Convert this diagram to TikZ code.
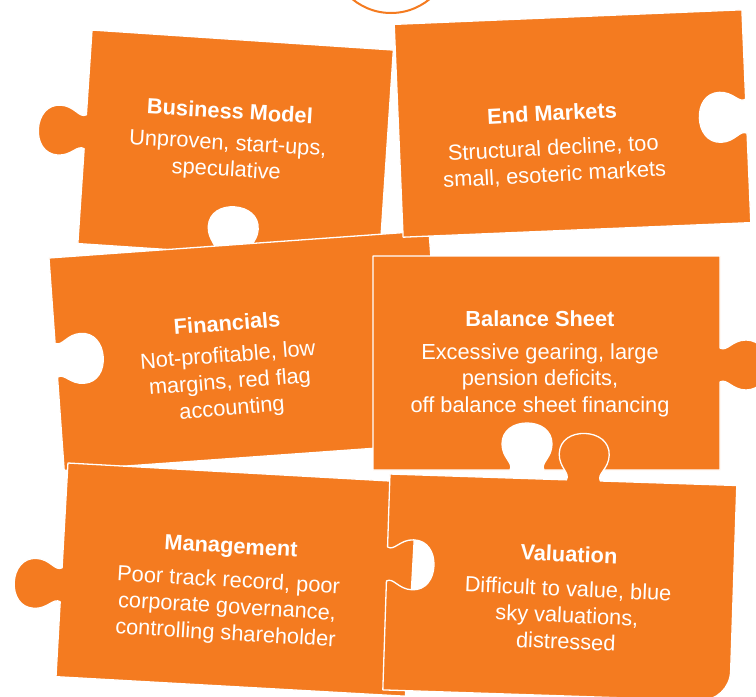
\documentclass[tikz,border=0pt]{standalone}
\usepackage{fontspec}
\setmainfont{Liberation Sans}
\definecolor{puzzle}{RGB}{244,123,32}

% Knob on a horizontal edge: #1 centre x, #2 edge y, #3 side (+1 / -1), #4 direction of travel
\newcommand\hknob[4]{%
 -- ({#1-(#4)*17},{#2})
 .. controls ({#1-(#4)*13},{#2+(#3)*7}) and ({#1-(#4)*25},{#2+(#3)*12}) .. ({#1-(#4)*25},{#2+(#3)*26})
 .. controls ({#1-(#4)*25},{#2+(#3)*40}) and ({#1-(#4)*13},{#2+(#3)*47}) .. ({#1},{#2+(#3)*47})
 .. controls ({#1+(#4)*13},{#2+(#3)*47}) and ({#1+(#4)*25},{#2+(#3)*40}) .. ({#1+(#4)*25},{#2+(#3)*26})
 .. controls ({#1+(#4)*25},{#2+(#3)*12}) and ({#1+(#4)*13},{#2+(#3)*7}) .. ({#1+(#4)*17},{#2})}
% Knob on a vertical edge: #1 centre y, #2 edge x, #3 side, #4 direction of travel
\newcommand\vknob[4]{%
 -- ({#2},{#1-(#4)*17})
 .. controls ({#2+(#3)*7},{#1-(#4)*13}) and ({#2+(#3)*12},{#1-(#4)*25}) .. ({#2+(#3)*26},{#1-(#4)*25})
 .. controls ({#2+(#3)*40},{#1-(#4)*25}) and ({#2+(#3)*47},{#1-(#4)*13}) .. ({#2+(#3)*47},{#1})
 .. controls ({#2+(#3)*47},{#1+(#4)*13}) and ({#2+(#3)*40},{#1+(#4)*25}) .. ({#2+(#3)*26},{#1+(#4)*25})
 .. controls ({#2+(#3)*12},{#1+(#4)*25}) and ({#2+(#3)*7},{#1+(#4)*13}) .. ({#2},{#1+(#4)*17})}

\tikzset{
  piece/.style={fill=puzzle, draw=white, line width=1.3pt, line join=round},
  ptitle/.style={text=white, font=\fontsize{21.8}{26.5}\selectfont\bfseries, inner sep=0pt},
  pbody/.style={text=white, font=\fontsize{21.8}{26.5}\selectfont, align=center, inner sep=0pt},
  ring/.style={draw=puzzle, line width=2pt},
}

\begin{document}
\begin{tikzpicture}[x=1pt,y=-1pt]
\useasboundingbox (0,0) rectangle (756,697);
\clip (0,0) rectangle (756,697);

% ring peeking in at the top
\draw[ring] (391,-47.6) circle[radius=60.6];

% Business Model
\begin{scope}[shift={(235.6,146.8)}, rotate=-3.8]
  \path[piece] (-151,-107) -- (151,-107) -- (151,107)
    \hknob{3}{107}{-1}{-1} -- (-151,107)
    \vknob{-5}{-151}{-1}{-1} -- cycle;
\end{scope}

% Financials
\begin{scope}[shift={(246.6,350.6)}, rotate=4.1]
  \path[piece] (-190.5,-106.5) -- (190.5,-106.5) -- (190.5,106.5) -- (-190.5,106.5)
    \vknob{-4}{-190.5}{1}{-1} -- cycle;
\end{scope}

% End Markets
\begin{scope}[shift={(572.5,123.5)}, rotate=2.4]
  \path[piece] (-174,-106.5) -- (174,-106.5)
    \vknob{0}{174}{-1}{1} -- (174,106.5) -- (-174,106.5) -- cycle;
\end{scope}

% Management
\begin{scope}[shift={(236.7,579.6)}, rotate=-3.2]
  \path[piece] (-175,-107) -- (175,-107) -- (175,107) -- (-175,107)
    \vknob{15}{-175}{-1}{-1} -- cycle;
\end{scope}

% Balance Sheet
\begin{scope}[shift={(546.5,363)}]
  \path[piece] (-173.5,-107) -- (173.5,-107)
    \vknob{2}{173.5}{1}{1} -- (173.5,107)
    \hknob{-19.5}{107}{-1}{-1} -- (-173.5,107) -- cycle;
\end{scope}

% Valuation
\begin{scope}[shift={(559.8,587.7)}, rotate=-1.9]
  \path[piece] (-173.5,-108) \hknob{20}{-108}{-1}{1} -- (173.5,-108) -- (173.5,78)
    .. controls (173.5,94.6) and (160.1,108) .. (143.5,108) -- (-173.5,108)
    \vknob{-18}{-173.5}{1}{-1} -- cycle;
\end{scope}

% labels
\node[ptitle, rotate=-3.4] (bmtitle) at (230,111) {Business Model};
\node[pbody, rotate=-3.4] (bmbody) at (227,158) {Unproven, start-ups,\\speculative};

\node[ptitle, rotate=3] (emtitle) at (552,113) {End Markets};
\node[pbody, rotate=3] (embody) at (554,162) {Structural decline, too\\small, esoteric markets};

\node[ptitle, rotate=4.5] (fintitle) at (227,323) {Financials};
\node[pbody, rotate=4.5] (finbody) at (230,383) {Not-profitable, low\\margins, red flag\\accounting};

\node[ptitle] (bstitle) at (540,319) {Balance Sheet};
\node[pbody] (bsbody) at (540,380) {Excessive gearing, large\\pension deficits,\\off balance sheet financing};

\node[ptitle, rotate=-3.4] (mgtitle) at (231,548) {Management};
\node[pbody, rotate=-3.4] (mgbody) at (227,608) {Poor track record, poor\\corporate governance,\\controlling shareholder};

\node[ptitle, rotate=-2.5] (valtitle) at (569,554) {Valuation};
\node[pbody, rotate=-2.5] (valbody) at (567,615) {Difficult to value, blue\\sky valuations,\\distressed};
\end{tikzpicture}
\end{document}
